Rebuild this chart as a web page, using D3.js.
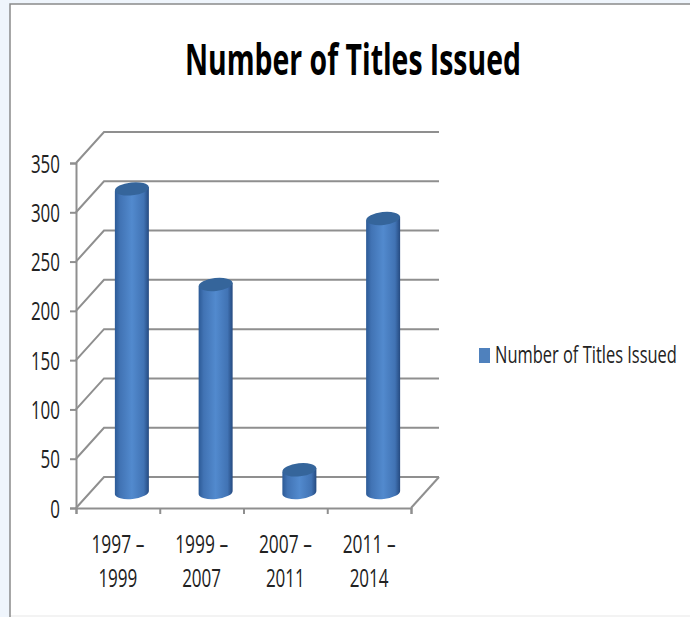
<!DOCTYPE html>
<html>
<head>
<meta charset="utf-8">
<script src="https://cdn.jsdelivr.net/npm/d3@7"></script>
<style>
  html, body { margin: 0; padding: 0; background: #fff; }
  svg { display: block; }
  text { font-family: "Open Sans", "Noto Sans", sans-serif; fill: #222; }
</style>
</head>
<body>
<svg id="chart" width="690" height="617"></svg>
<script>
const categories = ["1997 – 1999", "1999 – 2007", "2007 – 2011", "2011 – 2014"]
const categoryLines = [["1997 –", "1999"], ["1999 –", "2007"], ["2007 –", "2011"], ["2011 –", "2014"]]
const titlesIssued = [308, 211, 23, 278]
const yTicks = [0, 50, 100, 150, 200, 250, 300, 350]
const chartTitle = "Number of Titles Issued"
const seriesName = "Number of Titles Issued"

const width = 690
const height = 617

const plot = { left: 76, right: 411, top: 163, bottom: 508 }
// offset of the back wall from the front of the box
const depth = { x: 28, y: -31 }
const barWidth = 34
const ry = 6.5

const svg = d3.select("#chart")

// the reference font is a narrow one, so squeeze the text to the width it has there
function squeeze(text, x, y, w, anchor) {
  const natural = text.node().getComputedTextLength()
  const sx = w / natural
  const left = anchor === "middle" ? x - w / 2 : anchor === "end" ? x - w : x
  text.attr("text-anchor", "start")
    .attr("x", 0).attr("y", 0).attr("dy", null)
    .attr("transform", `translate(${left},${y}) scale(${sx},1)`)
}

const xScale = d3.scaleBand()
  .domain(categories)
  .range([plot.left, plot.right])

const yScale = d3.scaleLinear()
  .domain([0, 350])
  .range([plot.bottom, plot.top])

// page background and frame
svg.append("rect").attr("width", width).attr("height", height).attr("fill", "#eff5fc")
svg.append("rect")
  .attr("x", 10).attr("y", 4)
  .attr("width", width - 10).attr("height", height - 4)
  .attr("fill", "#fff")
svg.append("rect")
  .attr("x", 10).attr("y", height - 2)
  .attr("width", width - 10).attr("height", 2)
  .attr("fill", "#f3f3f3")
svg.append("path")
  .attr("d", d3.line()([[10, height], [10, 4], [width, 4]]))
  .attr("fill", "none").attr("stroke", "#8a8a8a").attr("stroke-width", 1.5)

const defs = svg.append("defs")
const grad = defs.append("linearGradient").attr("id", "cyl")
grad.selectAll("stop")
  .data([[0, "#2c5a96"], [0.15, "#4173b4"], [0.5, "#528ace"], [0.85, "#4173b4"], [1, "#254a80"]])
  .enter().append("stop")
  .attr("offset", d => d[0])
  .attr("stop-color", d => d[1])

const wallColor = "#8f8f8f"
const walls = svg.append("g")
  .attr("fill", "none").attr("stroke", wallColor).attr("stroke-width", 2)

// gridlines run along the back wall and fold forward on the side wall
walls.selectAll("path")
  .data(yTicks)
  .enter().append("path")
  .attr("d", d => d3.line()([
    [plot.left, yScale(d)],
    [plot.left + depth.x, yScale(d) + depth.y],
    [plot.right + depth.x, yScale(d) + depth.y]
  ]))

// floor edge on the right
walls.append("path")
  .attr("d", d3.line()([
    [plot.right, yScale(0)],
    [plot.right + depth.x, yScale(0) + depth.y]
  ]))

const axisY = svg.append("g")
  .attr("transform", `translate(${plot.left},0)`)
  .call(d3.axisLeft(yScale).tickValues(yTicks).tickSize(6).tickPadding(4))
axisY.select(".domain").attr("stroke", wallColor).attr("stroke-width", 2)
axisY.selectAll("line").attr("stroke", wallColor).attr("stroke-width", 2)
axisY.selectAll("text")
  .attr("font-size", 25)
  .attr("font-family", "\"Open Sans\", \"Noto Sans\", sans-serif")
  .each(function (d) {
    const t = d3.select(this)
    squeeze(t, -16, 9, String(d).length * 9.7, "end")
  })

const axisX = svg.append("g")
  .attr("transform", `translate(0,${plot.bottom})`)
  .call(d3.axisBottom(d3.scalePoint().domain(d3.range(categories.length + 1)).range([plot.left, plot.right]))
    .tickSize(6).tickFormat(""))
axisX.select(".domain").attr("stroke", wallColor).attr("stroke-width", 2)
axisX.selectAll("line").attr("stroke", wallColor).attr("stroke-width", 2)

// two line category labels
const labels = svg.append("g").attr("font-size", 25)
categories.forEach((c, i) => {
  const cx = xScale(c) + xScale.bandwidth() / 2
  categoryLines[i].forEach((line, j) => {
    const t = labels.append("text").text(line)
    squeeze(t, cx, plot.bottom + 45 + j * 34, j === 0 ? 53 : 39, "middle")
  })
})

// cylinders stand half way into the box and are seen slightly from the left
const bars = svg.append("g")
  .selectAll("g")
  .data(categories.map((c, i) => ({ c, v: titlesIssued[i] })))
  .enter().append("g")
  .attr("transform", d => `translate(${xScale(d.c) + xScale.bandwidth() / 2 + depth.x / 2},0)`)

const zeroY = yScale(0) + depth.y / 2
const rx = barWidth / 2
const tilt = 1.8

bars.append("path")
  .attr("fill", "url(#cyl)")
  .attr("d", d => {
    const top = yScale(d.v) + depth.y / 2
    return `M${-rx},${top + tilt} L${-rx},${zeroY + tilt}
      A${rx},${ry} -6 0 0 ${rx},${zeroY - tilt}
      L${rx},${top - tilt} Z`
  })

bars.append("ellipse")
  .attr("rx", rx)
  .attr("ry", ry)
  .attr("fill", "#35659b")
  .attr("transform", d => `translate(0,${yScale(d.v) + depth.y / 2}) rotate(-6)`)

const title = svg.append("text")
  .attr("font-size", 43)
  .attr("font-weight", 700)
  .style("fill", "#000")
  .text(chartTitle)
squeeze(title, 353, 75, 336, "middle")

// legend
const legend = svg.append("g")
legend.append("rect")
  .attr("x", 479).attr("y", 348)
  .attr("width", 11).attr("height", 15)
  .attr("fill", "#4f81bd")
const legendLabel = legend.append("text")
  .attr("font-size", 23)
  .text(seriesName)
squeeze(legendLabel, 495, 363, 182, "start")
</script>
</body>
</html>
